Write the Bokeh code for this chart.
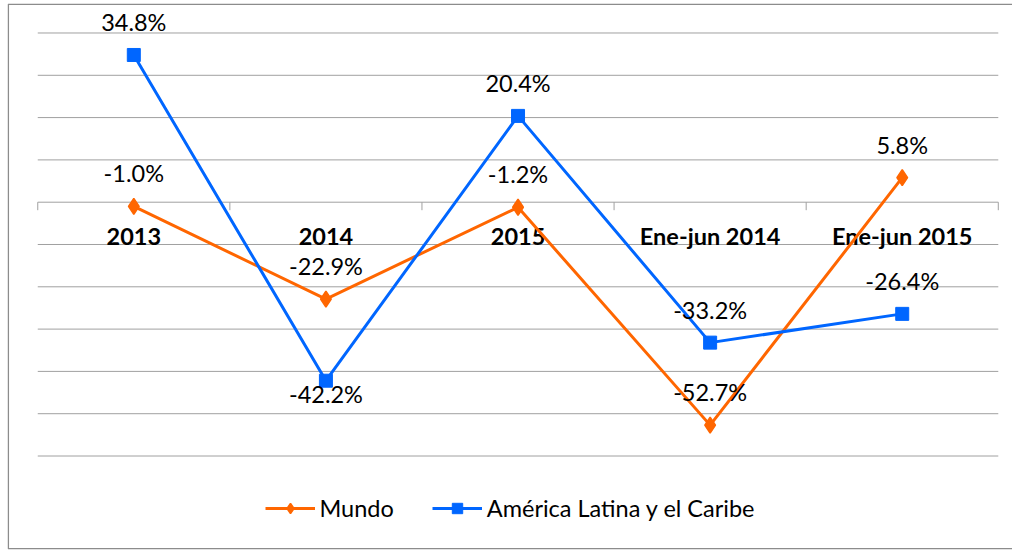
from bokeh.plotting import figure
from bokeh.models import Range1d, Legend, LegendItem, ColumnDataSource
from bokeh.core.properties import value
from bokeh.embed import file_html
from bokeh.resources import INLINE

# ---- data ----
categories = ["2013", "2014", "2015", "Ene-jun 2014", "Ene-jun 2015"]
mundo = [-1.0, -22.9, -1.2, -52.7, 5.8]
america_latina = [34.8, -42.2, 20.4, -33.2, -26.4]
mundo_label_side = ["above", "above", "above", "above", "above"]
alc_label_side = ["above", "below", "above", "above", "above"]
grid_values = [40, 30, 20, 10, 0, -10, -20, -30, -40, -50, -60]

ORANGE = "#FF6600"
BLUE = "#0066FF"
GRID = "#A0A0A0"
BORDER = "#8C8C8C"
FONT = "Lato"
FS = "23.5px"
PX_X = 192.1   # pixels per category
PX_Y = 4.23    # pixels per percentage point

X_START, X_END = -0.6575, 4.574
Y_START, Y_END = -82.10, 46.97

xs = list(range(len(categories)))

p = figure(width=1012, height=550,
           x_range=Range1d(X_START, X_END), y_range=Range1d(Y_START, Y_END),
           output_backend="svg", toolbar_location=None,
           x_axis_location=None, y_axis_location=None,
           min_border_left=7, min_border_top=3, min_border_bottom=1,
           min_border_right=0)
p.grid.visible = False
p.outline_line_color = None
p.background_fill_color = "white"
p.border_fill_color = "white"

# chart-area border (left, top, bottom)
bx = X_START + 0.8 / PX_X
by_top = Y_END - 0.8 / PX_Y
by_bot = Y_START + 0.8 / PX_Y
p.line([X_END, bx, bx, X_END], [by_top, by_top, by_bot, by_bot],
       line_color=BORDER, line_width=1.5)

# gridlines
p.segment(x0=[-0.5] * len(grid_values), x1=[4.5] * len(grid_values),
          y0=grid_values, y1=grid_values, line_color=GRID, line_width=1)
# category tick marks on the zero axis
tick_x = [i - 0.5 for i in range(len(categories) + 1)]
p.segment(x0=tick_x, x1=tick_x, y0=[0] * len(tick_x),
          y1=[-8 / PX_Y] * len(tick_x), line_color=GRID, line_width=1)

# category labels
p.text(x=xs, y=[0] * len(xs), text=categories, y_offset=34,
       text_align="center", text_baseline="middle",
       text_font=value(FONT), text_font_style="bold",
       text_font_size=FS, text_color="black")

# series
ml = p.line(xs, mundo, line_color=ORANGE, line_width=3)
ms = p.scatter(xs, mundo, marker="diamond", size=16, fill_color=ORANGE,
               line_color=ORANGE, line_width=1.5)
al = p.line(xs, america_latina, line_color=BLUE, line_width=3)
as_ = p.scatter(xs, america_latina, marker="square", size=13, fill_color=BLUE,
                line_color=BLUE)


def offs(sides):
    return [-33 if s == "above" else 13 for s in sides]


for vals, sides in ((mundo, mundo_label_side), (america_latina, alc_label_side)):
    src = ColumnDataSource(dict(x=xs, y=vals,
                                t=["%.1f%%" % v for v in vals],
                                off=offs(sides)))
    p.text(x="x", y="y", text="t", y_offset="off", source=src,
           text_align="center", text_baseline="middle",
           text_font=value(FONT), text_font_size=FS, text_color="black")

legend = Legend(items=[LegendItem(label="Mundo", renderers=[ml, ms]),
                       LegendItem(label="América Latina y el Caribe",
                                  renderers=[al, as_])],
                orientation="horizontal", location="bottom_center",
                glyph_width=50, glyph_height=26, label_height=26,
                label_standoff=5, spacing=38, padding=0, margin=27,
                border_line_alpha=0, background_fill_alpha=0,
                label_text_font=FONT, label_text_font_size=FS,
                label_text_color="black")
p.add_layout(legend)

open("out.html", "w").write(file_html(p, INLINE))
